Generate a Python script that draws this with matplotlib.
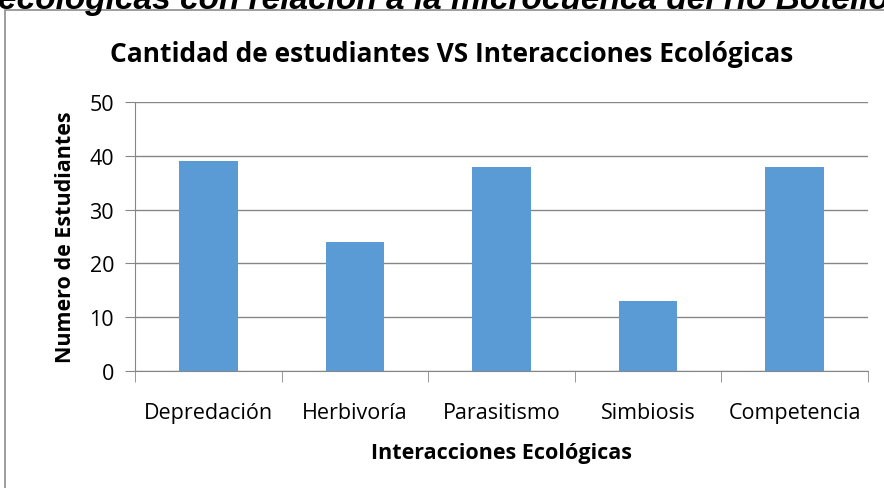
import matplotlib.pyplot as plt
from matplotlib.patches import Rectangle
import numpy as np

categorias = ['Depredación', 'Herbivoría', 'Parasitismo', 'Simbiosis', 'Competencia']
estudiantes = [39, 24, 38, 13, 38]
y_ticks = [0, 10, 20, 30, 40, 50]

W, H = 884, 489
fig = plt.figure(figsize=(W / 100, H / 100), dpi=100)

# marco del grafico (se sale del recorte por la derecha y abajo)
fig.patches.append(Rectangle((5 / W, -0.1), 1.1, 1.1 - 11 / H, transform=fig.transFigure,
                             fill=False, edgecolor='#8c8c8c', linewidth=1.2))

# texto cortado del documento original
fig.text(-2 / W, 1 - 9 / H, 'ecológicas con relación a la microcuenca del río Botello',
         family='Liberation Sans', weight='bold', style='italic', fontsize=24,
         ha='left', va='baseline')

ax = fig.add_axes([135 / W, 1 - 372 / H, (868 - 135) / W, (372 - 103) / H])
x = np.arange(1, len(categorias) + 1)
ax.bar(x, estudiantes, width=0.4, color='#5B9BD5', zorder=3)

ax.set_xlim(0.5, len(categorias) + 0.5)
ax.set_ylim(0, 50)
ax.set_yticks(y_ticks)
ax.yaxis.grid(True, color='#868686', linewidth=1.0, zorder=0)

ax.set_xticks(x)
ax.set_xticklabels(categorias)
ax.set_xticks(np.arange(0.5, len(categorias) + 1), minor=True)
ax.tick_params(axis='x', which='major', length=0, pad=22)
ax.tick_params(axis='x', which='minor', length=8, color='#868686', direction='out')
ax.tick_params(axis='y', length=7, color='#868686', pad=8)

for s in ['top', 'right']:
    ax.spines[s].set_visible(False)
for s in ['left', 'bottom']:
    ax.spines[s].set_color('#868686')

font = 'Open Sans'
for lab in ax.get_xticklabels() + ax.get_yticklabels():
    lab.set_fontfamily(font)
    lab.set_fontsize(15.5)

ax.set_xlabel('Interacciones Ecológicas', family=font, weight='bold', fontsize=15.5, labelpad=14)
ax.set_ylabel('Numero de Estudiantes', family=font, weight='bold', fontsize=15.5, labelpad=10)
fig.text(452 / W, 1 - 55 / H, 'Cantidad de estudiantes VS Interacciones Ecológicas',
         family=font, weight='bold', fontsize=19, ha='center', va='center')

fig.savefig('out.png', dpi=100)
